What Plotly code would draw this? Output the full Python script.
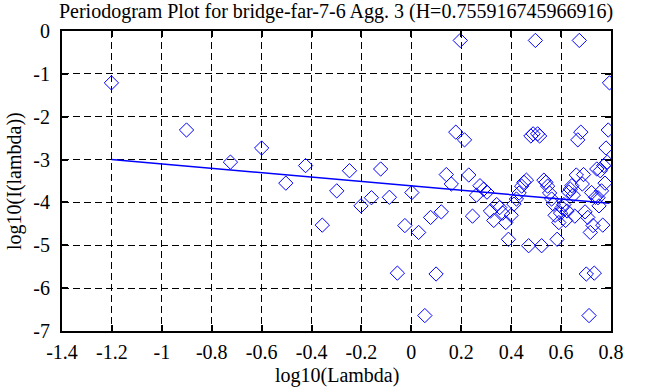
import plotly.graph_objects as go

# log10(lambda) for each periodogram ordinate (k = 1..99)
log_lambda = [
    -1.202, -0.901, -0.725, -0.600, -0.503, -0.424, -0.357, -0.299, -0.248, -0.202,
    -0.160, -0.123, -0.088, -0.056, -0.026, 0.002, 0.029, 0.054, 0.077, 0.099,
    0.120, 0.140, 0.160, 0.178, 0.196, 0.213, 0.230, 0.245, 0.261, 0.275,
    0.290, 0.303, 0.317, 0.330, 0.342, 0.354, 0.366, 0.378, 0.389, 0.400,
    0.411, 0.421, 0.432, 0.442, 0.451, 0.461, 0.470, 0.479, 0.488, 0.497,
    0.506, 0.514, 0.522, 0.531, 0.539, 0.546, 0.554, 0.562, 0.569, 0.576,
    0.584, 0.591, 0.598, 0.604, 0.611, 0.618, 0.624, 0.631, 0.637, 0.643,
    0.649, 0.655, 0.661, 0.667, 0.673, 0.679, 0.685, 0.690, 0.696, 0.701,
    0.707, 0.712, 0.717, 0.722, 0.728, 0.733, 0.738, 0.743, 0.748, 0.752,
    0.757, 0.762, 0.767, 0.771, 0.776, 0.780, 0.785, 0.789, 0.794,
]

# log10(I(lambda))
log_I = [
    -1.21, -2.31, -3.06, -2.73, -3.55, -3.14, -4.53, -3.73, -3.26, -4.08,
    -3.89, -3.22, -3.88, -5.65, -4.54, -3.77, -4.70, -6.64, -4.35, -5.67,
    -4.22, -3.35, -3.57, -2.36, -0.22, -2.54, -3.36, -4.32, -3.83, -3.61,
    -3.69, -3.76, -4.20, -4.42, -4.05, -4.12, -4.25, -4.47, -4.86, -4.30,
    -4.04, -3.92, -3.78, -3.62, -3.53, -3.48, -5.01, -2.45, -2.40, -0.22,
    -2.40, -2.45, -5.01, -3.48, -3.53, -3.62, -3.78, -3.92, -4.04, -4.30,
    -4.86, -4.47, -4.25, -4.12, -4.05, -4.42, -4.20, -3.76, -3.69, -3.61,
    -3.83, -4.32, -3.36, -2.54, -0.22, -2.36, -3.57, -3.35, -4.22, -5.67,
    -4.35, -6.64, -4.70, -3.77, -4.54, -5.65, -3.88, -3.22, -3.89, -4.08,
    -3.26, -3.73, -4.53, -3.14, -3.55, -2.73, -3.06, -2.31, -1.21,
]

# least-squares fit line end points
fit_x = [-1.202, 0.794]
fit_y = [-3.00, -4.02]

x_ticks = [-1.4, -1.2, -1.0, -0.8, -0.6, -0.4, -0.2, 0.0, 0.2, 0.4, 0.6, 0.8]
x_tick_text = ["-1.4", "-1.2", "-1", "-0.8", "-0.6", "-0.4", "-0.2", "0", "0.2", "0.4", "0.6", "0.8"]
y_ticks = [0, -1, -2, -3, -4, -5, -6, -7]
y_tick_text = ["0", "-1", "-2", "-3", "-4", "-5", "-6", "-7"]

title_text = "Periodogram Plot for bridge-far-7-6 Agg. 3 (H=0.755916745966916)"
x_title = "log10(Lambda)"
y_title = "log10(I(lambda))"

FONT = "Liberation Serif, Times New Roman, serif"
W, H = 663, 387

fig = go.Figure()
fig.add_trace(go.Scatter(
    x=log_lambda, y=log_I, mode="markers",
    marker=dict(symbol="diamond-open", size=11, color="#0000ff", line=dict(width=1, color="#0000ff")),
    showlegend=False, hoverinfo="skip",
))
fig.add_trace(go.Scatter(
    x=fit_x, y=fit_y, mode="lines",
    line=dict(color="#0000ff", width=1.5),
    showlegend=False, hoverinfo="skip",
))

axis_common = dict(
    showline=True, linecolor="black", linewidth=2, mirror="ticks",
    ticks="inside", ticklen=6, tickwidth=2, tickcolor="black",
    showgrid=True, gridcolor="black", gridwidth=1, griddash="7px,4px",
    zeroline=False, automargin=False,
    tickfont=dict(family=FONT, size=20, color="black"),
)

fig.update_layout(
    width=W, height=H,
    margin=dict(l=62, r=52, t=31, b=56),
    paper_bgcolor="white", plot_bgcolor="white",
    title=dict(text=title_text, xref="container", x=336 / W, xanchor="center",
               yref="container", y=1 - 11 / H, yanchor="middle",
               font=dict(family=FONT, size=20, color="black")),
    xaxis=dict(range=[-1.4, 0.8], tickvals=x_ticks, ticktext=x_tick_text,
               ticklabelstandoff=2, **axis_common),
    yaxis=dict(range=[-7, 0], tickvals=y_ticks, ticktext=y_tick_text,
               ticklabelstandoff=6, **axis_common),
    annotations=[
        dict(text=x_title, xref="paper", yref="paper", x=0.5, y=-44 / 300,
             xanchor="center", yanchor="middle", showarrow=False,
             font=dict(family=FONT, size=20, color="black")),
        dict(text=y_title, xref="paper", yref="paper", x=-48 / 549, y=0.5,
             xanchor="center", yanchor="middle", showarrow=False, textangle=-90,
             font=dict(family=FONT, size=20, color="black")),
    ],
)

fig.write_html("out.html", config={"displayModeBar": False},
               post_script="document.body.style.margin='0';")
